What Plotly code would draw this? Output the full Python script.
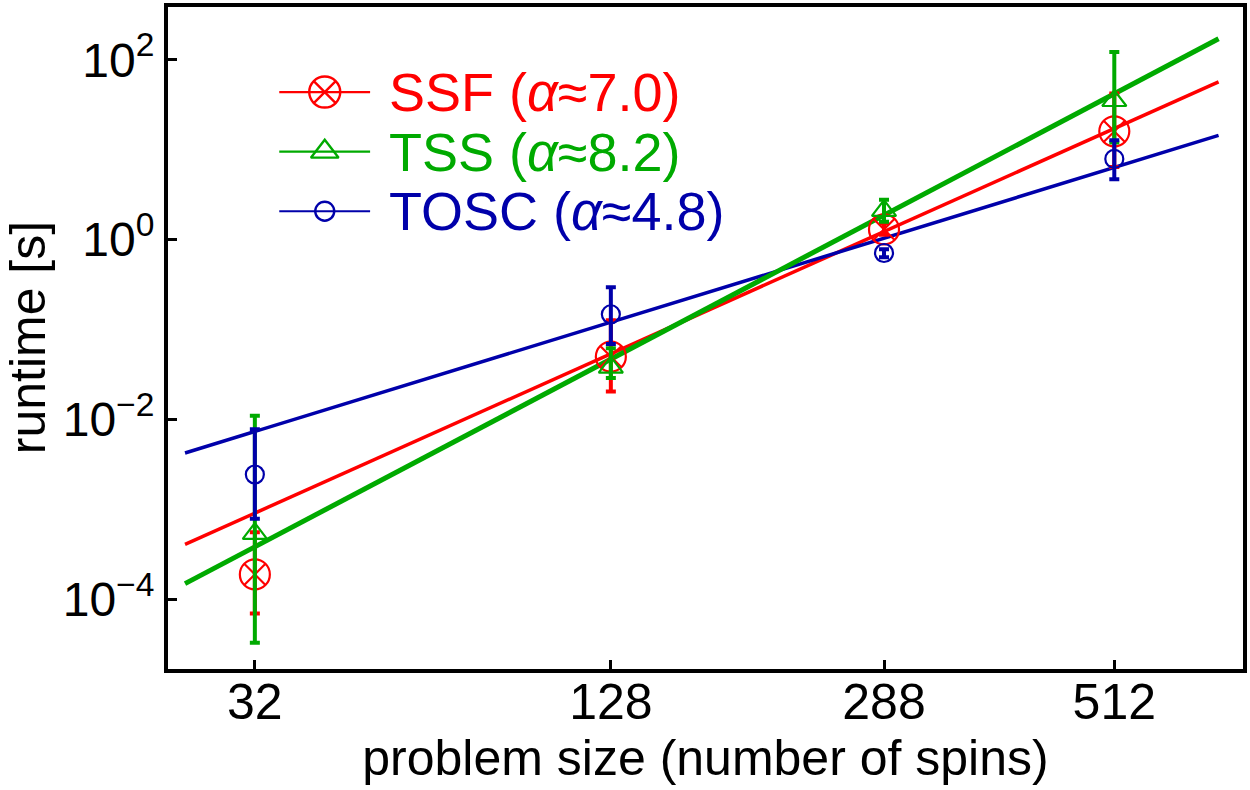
import plotly.graph_objects as go

# ---------------- data ----------------
sizes = [32, 128, 288, 512]
tick_labels = ["32", "128", "288", "512"]

y_tick_vals = [1e-4, 1e-2, 1e0, 1e2]
y_tick_text = ["10<sup>−4</sup>", "10<sup>−2</sup>", "10<sup>0</sup>", "10<sup>2</sup>"]

ssf = [1.9e-4, 0.050, 1.30, 16.0]
ssf_hi = [5.6e-4, 0.127, 1.51, 42.0]
ssf_lo = [7.0e-5, 0.0205, 1.13, 6.4]

tss = [5.4e-4, 0.038, 2.1, 35.0]
tss_hi = [1.1e-2, 0.062, 2.77, 122.0]
tss_lo = [3.3e-5, 0.029, 1.58, 12.0]

tosc = [2.45e-3, 0.148, 0.71, 7.9]
tosc_hi = [7.8e-3, 0.295, 0.78, 12.7]
tosc_lo = [7.9e-4, 0.069, 0.635, 4.7]

fit_sizes = [22.8, 648.0]
ssf_fit = [4.1e-4, 56.7]
tss_fit = [1.5e-4, 171.0]
tosc_fit = [4.25e-3, 14.4]

labels = ["SSF (<i>α</i>≈7.0)", "TSS (<i>α</i>≈8.2)", "TOSC (<i>α</i>≈4.8)"]

RED = "#ff0000"
GREEN = "#00aa00"
BLUE = "#0000aa"
FONT = "Liberation Sans"


def xpos(n):
    # x axis is sqrt(L) with L = sqrt(N/8)
    return (n / 8.0) ** 0.25


xs = [xpos(n) for n in sizes]
xfit = [xpos(n) for n in fit_sizes]

fig = go.Figure()

# fit lines
fig.add_trace(go.Scatter(x=xfit, y=ssf_fit, mode="lines", line=dict(color=RED, width=3.5),
                         showlegend=False, hoverinfo="skip"))
fig.add_trace(go.Scatter(x=xfit, y=tosc_fit, mode="lines", line=dict(color=BLUE, width=3.5),
                         showlegend=False, hoverinfo="skip"))
fig.add_trace(go.Scatter(x=xfit, y=tss_fit, mode="lines", line=dict(color=GREEN, width=5),
                         showlegend=False, hoverinfo="skip"))


def add_points(vals, hi, lo, color, symbol, size):
    fig.add_trace(go.Scatter(
        x=xs, y=vals, mode="markers",
        marker=dict(symbol=symbol, size=size, color=color,
                    line=dict(color=color, width=2.2)),
        error_y=dict(type="data", symmetric=False,
                     array=[h - v for h, v in zip(hi, vals)],
                     arrayminus=[v - l for v, l in zip(vals, lo)],
                     color=color, thickness=4, width=5),
        showlegend=False, hoverinfo="skip"))


add_points(ssf, ssf_hi, ssf_lo, RED, "circle-x-open", 30)
add_points(tss, tss_hi, tss_lo, GREEN, "triangle-up-open", 21)
add_points(tosc, tosc_hi, tosc_lo, BLUE, "circle-open", 18)

# ---------------- manual legend on hidden overlay axes ----------------
leg_rows = [0.8715, 0.7815, 0.6915]
leg_x0, leg_x1, leg_xm, leg_tx = 0.1035, 0.1880, 0.1458, 0.2035
leg_styles = [(RED, "circle-x-open", 31), (GREEN, "triangle-up-open", 24), (BLUE, "circle-open", 19)]
for yrow, (col, sym, sz), lab in zip(leg_rows, leg_styles, labels):
    fig.add_trace(go.Scatter(x=[leg_x0, leg_x1], y=[yrow, yrow], xaxis="x2", yaxis="y2",
                             mode="lines", line=dict(color=col, width=2.2),
                             showlegend=False, hoverinfo="skip"))
    fig.add_trace(go.Scatter(x=[leg_xm], y=[yrow], xaxis="x2", yaxis="y2", mode="markers",
                             marker=dict(symbol=sym, size=sz, color=col,
                                         line=dict(color=col, width=2.4)),
                             showlegend=False, hoverinfo="skip"))
    fig.add_annotation(x=leg_tx, y=yrow, xref="x2", yref="y2", text=lab, showarrow=False,
                       xanchor="left", yanchor="middle",
                       font=dict(family=FONT, size=54, color=col))

# y-axis title as rotated annotation
fig.add_annotation(x=-0.13, y=0.5, xref="paper", yref="paper", text="runtime [s]",
                   showarrow=False, textangle=-90, xanchor="center", yanchor="middle",
                   font=dict(family=FONT, size=50, color="black"))

fig.update_layout(
    width=1250, height=790,
    margin=dict(l=168, r=5, t=3, b=121),
    paper_bgcolor="white", plot_bgcolor="white",
    font=dict(family=FONT, size=50, color="black"),
    showlegend=False,
    xaxis=dict(
        range=[1.2713, 3.0402], tickmode="array", tickvals=xs, ticktext=tick_labels,
        ticks="inside", ticklen=9, tickwidth=3, tickcolor="black",
        showline=True, linecolor="black", linewidth=4, mirror=True,
        showgrid=False, zeroline=False, ticklabelstandoff=-14,
        tickfont=dict(family=FONT, size=50),
        title=dict(text="problem size (number of spins)", font=dict(family=FONT, size=50),
                   standoff=8),
    ),
    yaxis=dict(
        type="log", range=[-4.773, 2.586], tickmode="array",
        tickvals=y_tick_vals, ticktext=y_tick_text,
        ticks="inside", ticklen=9, tickwidth=3, tickcolor="black",
        showline=True, linecolor="black", linewidth=4, mirror=True,
        showgrid=False, zeroline=False,
        tickfont=dict(family=FONT, size=48),
    ),
    xaxis2=dict(overlaying="x", range=[0, 1], visible=False),
    yaxis2=dict(overlaying="y", range=[0, 1], visible=False),
)

fig.write_html("out.html")
